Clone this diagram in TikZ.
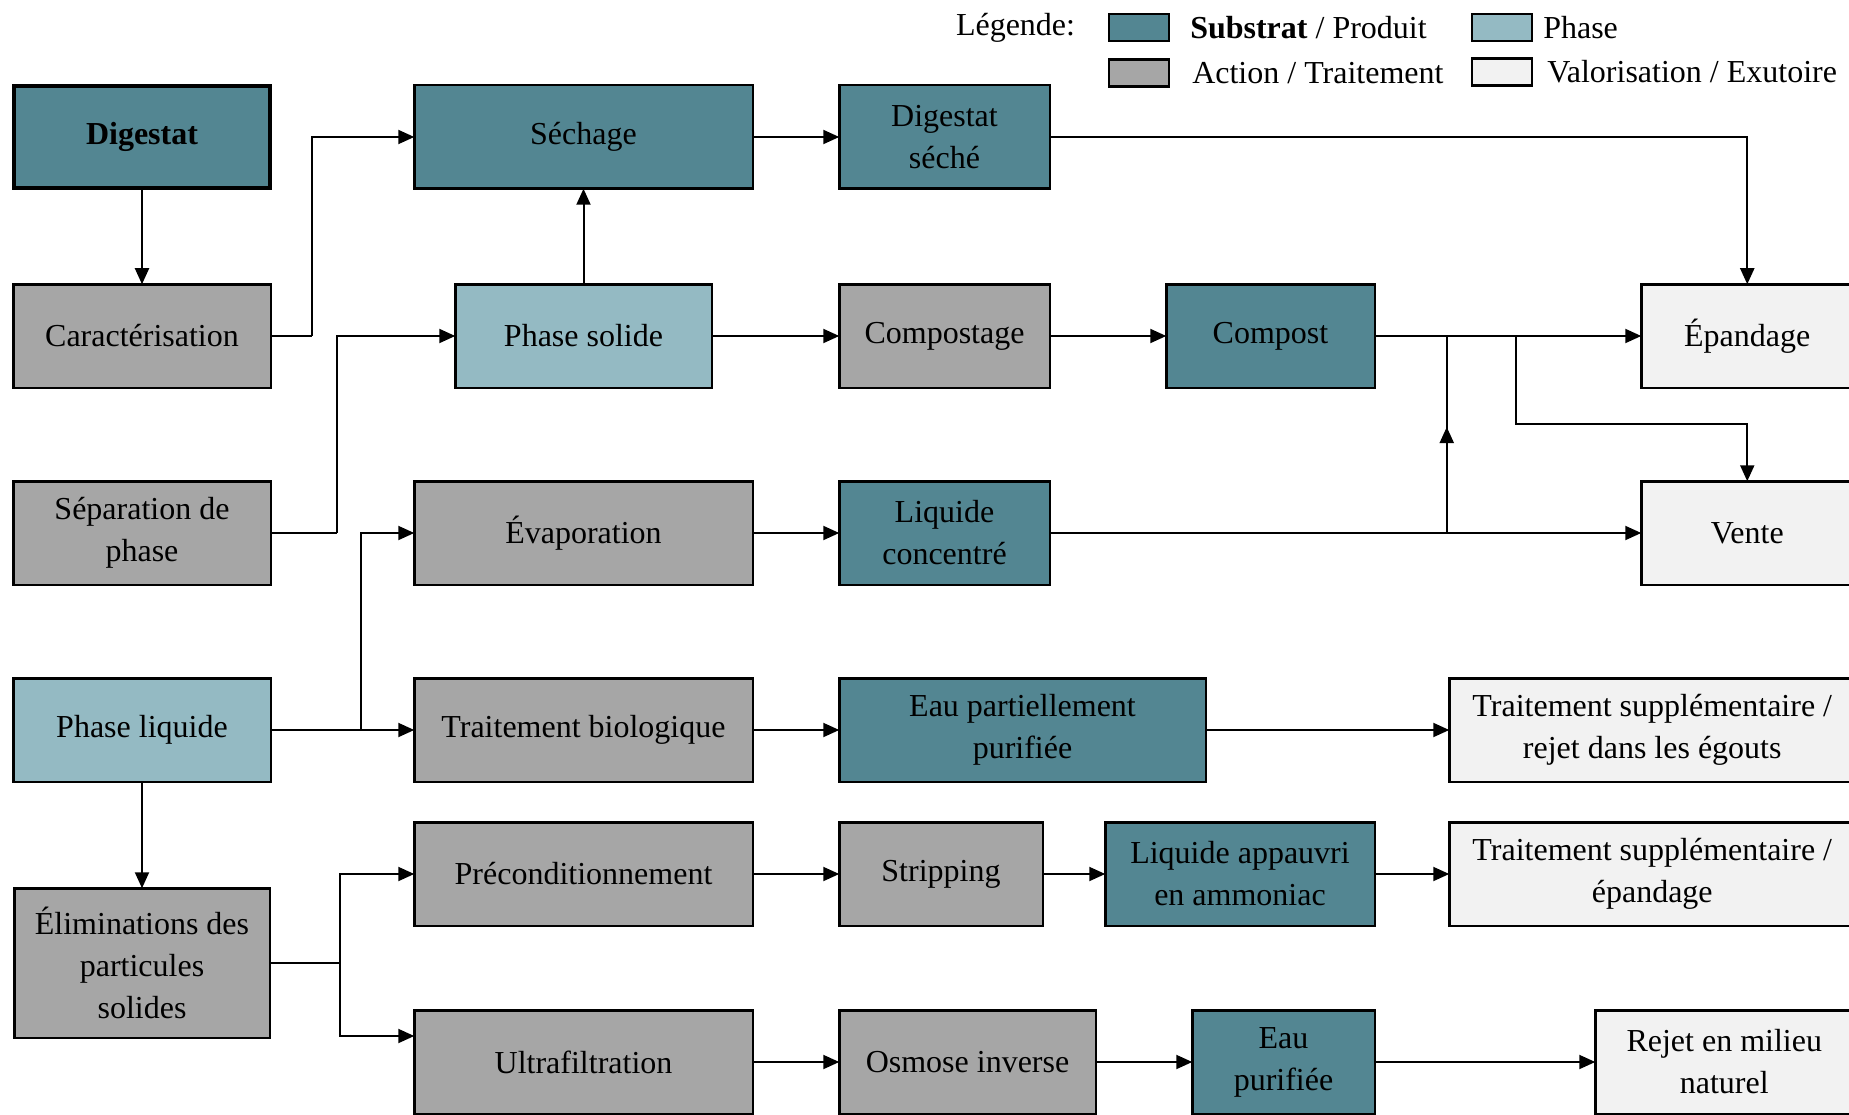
\documentclass[tikz,border=0pt]{standalone}
\usepackage{fontspec}
\setmainfont{Liberation Serif}
\usepackage{tikz}
\definecolor{substratTeal}{RGB}{83,134,146}
\definecolor{phaseBlue}{RGB}{148,186,195}
\definecolor{actionGrey}{RGB}{166,166,166}
\definecolor{valoWhite}{RGB}{242,242,242}
\usetikzlibrary{arrows.meta, positioning}
\tikzstyle{box} = [draw, rectangle, line width=2.5pt, inner sep=0pt, outer sep=0pt, align=center, minimum height=103.5pt, font=\fontsize{32}{42}\selectfont]
\tikzstyle{substrat} = [box, fill=substratTeal]
\tikzstyle{phase} = [box, fill=phaseBlue]
\tikzstyle{action} = [box, fill=actionGrey]
\tikzstyle{valo} = [box, fill=valoWhite]
\tikzstyle{legendbox} = [draw, line width=2.5pt, minimum width=60pt, minimum height=27pt, inner sep=0pt]
\tikzstyle{legendtext} = [anchor=west, inner sep=0pt, font=\fontsize{32}{42}\selectfont]

\begin{document}
\begin{tikzpicture}[x=1pt, y=-1pt, node distance=197pt, >={Triangle[length=16pt, width=14pt]}, line width=2pt]
        \useasboundingbox (0,0) rectangle (1849,1115);
        % Legend
        \node [legendtext] (legTitle) at (955,28) {Légende:};
        \node [legendbox, fill=substratTeal] (legSubstrat) at (1139,27.5) {};
        \node [legendtext, right=19pt of legSubstrat] (legSubstratText) {\textbf{Substrat} / Produit};
        \node [legendbox, fill=actionGrey] (legAction) at (1139,73) {};
        \node [legendtext, right=21pt of legAction] (legActionText) {Action / Traitement};
        \node [legendbox, fill=phaseBlue] (legPhase) at (1502,27.5) {};
        \node [legendtext, right=9pt of legPhase] (legPhaseText) {Phase};
        \node [legendbox, fill=valoWhite] (legValo) at (1502,72) {};
        \node [legendtext, right=13pt of legValo] (legValoText) {Valorisation / Exutoire};

        % We start by placing the blocks, column by column
        \node [substrat, minimum width=256pt, minimum height=102pt, line width=4pt, font=\fontsize{32}{42}\selectfont\bfseries] (digestat) at (142,137) {Digestat};
        \node [action, minimum width=257.5pt, below of=digestat, node distance=199pt] (caracterisation) {Caractérisation};
        \node [action, minimum width=257.5pt, below of=caracterisation] (separation) {Séparation de\\phase};
        \node [phase, minimum width=257.5pt, below of=separation] (phaseLiquide) {Phase liquide};
        \node [action, minimum width=255.5pt, minimum height=149.5pt, below of=phaseLiquide, node distance=233pt] (eliminations) {Éliminations des\\particules\\solides};

        \node [substrat, minimum width=338.5pt, right of=digestat, node distance=441.5pt] (sechage) {Séchage};
        \node [phase, minimum width=256.5pt, below of=sechage, node distance=199pt] (phaseSolide) {Phase solide};
        \node [action, minimum width=338.5pt, below of=phaseSolide] (evaporation) {Évaporation};
        \node [action, minimum width=338.5pt, below of=evaporation] (traitBio) {Traitement biologique};
        \node [action, minimum width=338.5pt, below of=traitBio, node distance=144pt] (precond) {Préconditionnement};
        \node [action, minimum width=338.5pt, below of=precond, node distance=188pt] (ultrafilt) {Ultrafiltration};

        \node [substrat, minimum width=210.5pt, right=86.5pt of sechage] (digestatSeche) {Digestat\\séché};
        \node [action, minimum width=210.5pt, right=127.5pt of phaseSolide] (compostage) {Compostage};
        \node [substrat, minimum width=210.5pt, right=86.5pt of evaporation] (liquideConc) {Liquide\\concentré};
        \node [substrat, minimum width=366.5pt, right=86.5pt of traitBio] (eauPart) {Eau partiellement\\purifiée};
        \node [action, minimum width=203.5pt, right=86.5pt of precond] (stripping) {Stripping};
        \node [action, minimum width=256.5pt, right=86.5pt of ultrafilt] (osmose) {Osmose inverse};

        \node [substrat, minimum width=208.5pt, right=116.5pt of compostage] (compost) {Compost};
        \node [substrat, minimum width=269.5pt, right=62.5pt of stripping] (liquideApp) {Liquide appauvri\\en ammoniac};
        \node [substrat, minimum width=182.5pt, right=96.5pt of osmose] (eauPurif) {Eau\\purifiée};

        \node [valo, minimum width=212pt, right=266.5pt of compost] (epandage) {Épandage};
        \node [valo, minimum width=212pt, below of=epandage] (vente) {Vente};
        \node [valo, minimum width=406pt, right=243.5pt of eauPart] (traitSuppA) {Traitement supplémentaire /\\rejet dans les égouts};
        \node [valo, minimum width=406pt, right=74.5pt of liquideApp] (traitSuppB) {Traitement supplémentaire /\\épandage};
        \node [valo, minimum width=258pt, right=220.5pt of eauPurif] (rejet) {Rejet en milieu\\naturel};

        % Junctions of the branching lines
        \coordinate (sechageSplit) at ([xshift=41pt]caracterisation.east);
        \coordinate (solideSplit) at ([xshift=66pt]separation.east);
        \coordinate (evapSplit) at ([xshift=90pt]phaseLiquide.east);
        \coordinate (elimSplit) at ([xshift=70pt]eliminations.east);
        \coordinate (compostJoin) at ([xshift=72pt]compost.east);
        \coordinate (venteSplit) at ([xshift=141pt]compost.east);

        % Once the nodes are placed, connecting them is easy.
        \draw [->] (digestat) -- (caracterisation);
        \draw (caracterisation) -- (sechageSplit);
        \draw [->] (sechageSplit) |- (sechage);
        \draw (separation) -- (solideSplit);
        \draw [->] (solideSplit) |- (phaseSolide);
        \draw [->] (phaseSolide) -- (sechage);
        \draw [->] (sechage) -- (digestatSeche);
        \draw [->] (digestatSeche) -| (epandage);
        \draw [->] (phaseSolide) -- (compostage);
        \draw [->] (compostage) -- (compost);
        \draw [->] (compost) -- (epandage);
        \draw [->] (venteSplit) -- ++(0,88) -| (vente);
        \draw [->] (evaporation) -- (liquideConc);
        \draw [->] (liquideConc) -- (vente);
        \draw (compostJoin |- liquideConc) -- (compostJoin);
        \draw [->] (compostJoin |- liquideConc) -- ++(0,-106);
        \draw [->] (phaseLiquide) -- (traitBio);
        \draw [->] (evapSplit) |- (evaporation);
        \draw [->] (traitBio) -- (eauPart);
        \draw [->] (eauPart) -- (traitSuppA);
        \draw [->] (phaseLiquide) -- (eliminations);
        \draw (eliminations) -- (elimSplit);
        \draw [->] (elimSplit) |- (precond);
        \draw [->] (elimSplit) |- ([yshift=26pt]ultrafilt.west);
        \draw [->] (precond) -- (stripping);
        \draw [->] (stripping) -- (liquideApp);
        \draw [->] (liquideApp) -- (traitSuppB);
        \draw [->] (ultrafilt) -- (osmose);
        \draw [->] (osmose) -- (eauPurif);
        \draw [->] (eauPurif) -- (rejet);
    \end{tikzpicture}
\end{document}
